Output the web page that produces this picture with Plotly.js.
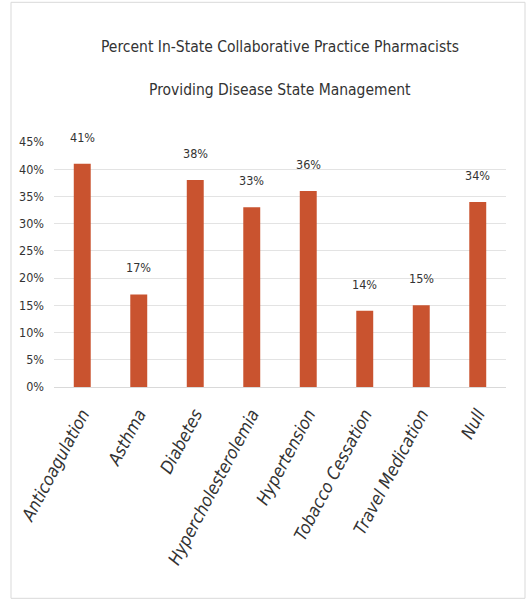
<!DOCTYPE html>
<html>
<head>
<meta charset="utf-8">
<script src="https://cdn.plot.ly/plotly-3.0.1.min.js"></script>
<style>html,body{margin:0;padding:0;background:#fff;}#chart{width:528px;height:607px;}</style>
</head>
<body>
<div id="chart"></div>
<script>
const categories = ["Anticoagulation","Asthma","Diabetes","Hypercholesterolemia","Hypertension","Tobacco Cessation","Travel Medication","Null"];
const percentValues = [41, 17, 38, 33, 36, 14, 15, 34];
const yTickValues = [0,5,10,15,20,25,30,35,40,45];
const yTickLabels = ["0%","5%","10%","15%","20%","25%","30%","35%","40%","45%"];
const titleLine1 = "Percent In-State Collaborative Practice Pharmacists";
const titleLine2 = "Providing Disease State Management";

const FONT = "'DejaVu Sans Condensed', 'Liberation Sans Narrow', sans-serif";
const BAR = "#C9532F";

const trace = {
  type: "bar",
  x: categories,
  y: percentValues,
  marker: {color: BAR},
  hoverinfo: "none"
};

const labelAnnotations = categories.map((c, i) => ({
  x: c, y: percentValues[i], xref: "x", yref: "y",
  text: percentValues[i] + "%",
  showarrow: false, yanchor: "bottom", yshift: 17,
  font: {family: FONT, size: 12.5, color: "#333333"}
}));

const layout = {
  width: 528, height: 607,
  paper_bgcolor: "#fff", plot_bgcolor: "#fff",
  margin: {l: 54, r: 22, t: 142, b: 220},
  bargap: 0.7,
  showlegend: false,
  title: {
    text: titleLine1,
    x: 0.5, xanchor: "center", xref: "paper",
    y: 1 - 47/607, yanchor: "middle", yref: "container",
    font: {family: FONT, size: 15.5, color: "#333333"}
  },
  xaxis: {
    tickangle: -62,
    tickfont: {family: FONT, size: 17.5, color: "#333333", style: "italic"},
    ticklabelstandoff: 9,
    showgrid: false,
    showline: true, linecolor: "#d9d9d9", linewidth: 1,
    ticks: "", fixedrange: true
  },
  yaxis: {
    range: [0, 45],
    tickvals: yTickValues, ticktext: yTickLabels,
    tickfont: {family: FONT, size: 12.5, color: "#333333"},
    ticklabelstandoff: 9,
    showgrid: true, gridcolor: "#e3e3e3", gridwidth: 1,
    zeroline: false, showline: false, ticks: "",
    fixedrange: true
  },
  annotations: [
    {text: titleLine2, xref: "paper", yref: "paper", x: 0.5, y: (386.7 - 90) / 245,
     xanchor: "center", yanchor: "middle", showarrow: false,
     font: {family: FONT, size: 15.5, color: "#333333"}}
  ].concat(labelAnnotations),
  shapes: [
    {type: "rect", xref: "paper", yref: "paper",
     x0: (11 - 54) / 452, x1: (525 - 54) / 452,
     y0: (386.7 - 598) / 245, y1: (386.7 - 2) / 245,
     line: {color: "#d9d9d9", width: 1}, fillcolor: "rgba(0,0,0,0)", layer: "below"}
  ]
};

Plotly.newPlot("chart", [trace], layout, {displayModeBar: false, staticPlot: true});
</script>
</body>
</html>
